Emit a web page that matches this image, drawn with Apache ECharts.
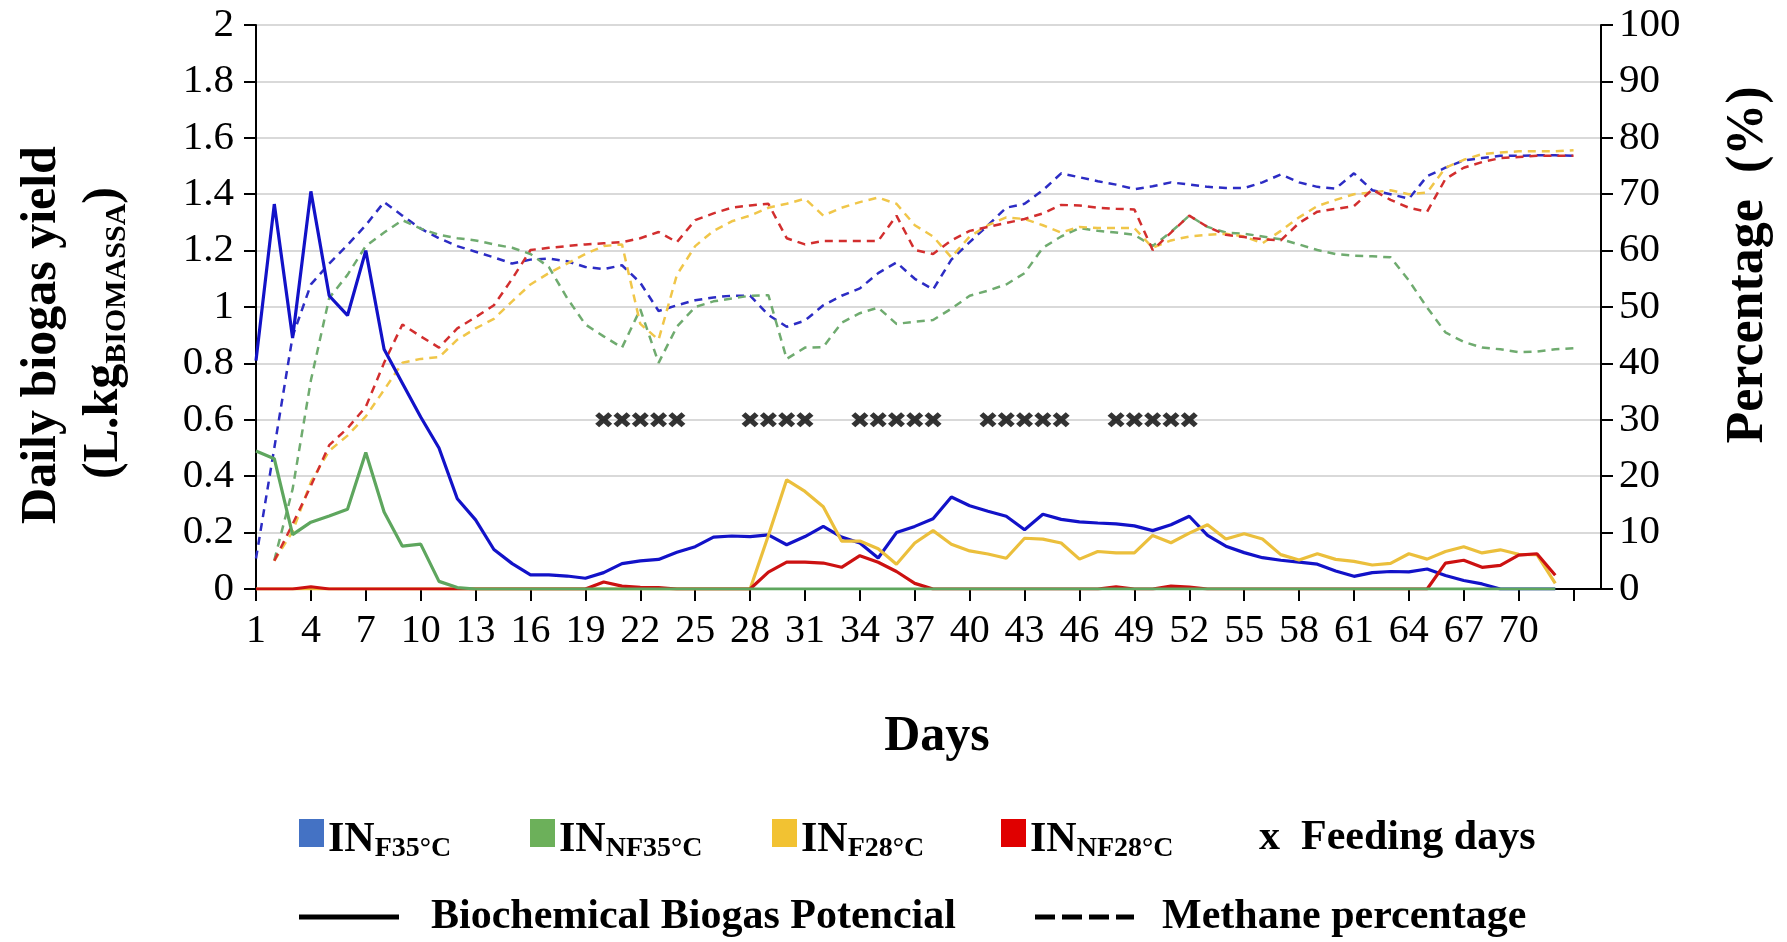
<!DOCTYPE html>
<html><head><meta charset="utf-8">
<script src="https://cdn.jsdelivr.net/npm/echarts@6/dist/echarts.min.js"></script>
<style>html,body{margin:0;padding:0;background:#fff}#c{width:1787px;height:942px}</style>
</head><body><div id="c"></div>
<script>
// ---------- DATA ----------
const days = Array.from({length: 73}, (_, i) => i + 1); // day 1 .. 73
const xTickDays = [1,4,7,10,13,16,19,22,25,28,31,34,37,40,43,46,49,52,55,58,61,64,67,70];

// Daily biogas yield (L.kg BIOMASSA), days 1..72
const bioF35 = [0.81,1.365,0.89,1.41,1.04,0.97,1.20,0.85,0.73,0.61,
  0.50,0.32,0.245,0.14,0.09,0.05,0.05,0.046,0.038,0.058,
  0.09,0.10,0.105,0.13,0.15,0.184,0.188,0.186,0.192,0.157,
  0.186,0.222,0.184,0.163,0.11,0.20,0.222,0.249,0.326,0.295,
  0.276,0.258,0.21,0.265,0.247,0.238,0.234,0.231,0.224,0.207,
  0.228,0.258,0.19,0.152,0.129,0.111,0.102,0.095,0.088,0.064,
  0.045,0.058,0.062,0.061,0.071,0.048,0.03,0.018,0,0,
  0,0];
const bioNF35 = [0.489,0.462,0.193,0.237,0.259,0.283,0.484,0.273,0.152,0.159,
  0.027,0.005,0,0,0,0,0,0,0,0,
  0,0,0,0,0,0,0,0,0,0,
  0,0,0,0,0,0,0,0,0,0,
  0,0,0,0,0,0,0,0,0,0,
  0,0,0,0,0,0,0,0,0,0,
  0,0,0,0,0,0,0,0,0,0,
  0,0];
const bioF28 = [0,0,0,0,0,0,0,0,0,0,
  0,0,0,0,0,0,0,0,0,0,
  0,0,0,0,0,0,0,0,0.19,0.387,
  0.346,0.292,0.17,0.17,0.143,0.088,0.163,0.207,0.159,0.135,
  0.124,0.109,0.18,0.177,0.163,0.106,0.133,0.128,0.128,0.19,
  0.164,0.198,0.228,0.177,0.196,0.177,0.122,0.103,0.125,0.105,
  0.098,0.085,0.091,0.125,0.106,0.133,0.15,0.128,0.139,0.123,
  0.122,0.02];
const bioNF28 = [0,0,0,0.008,0,0,0,0,0,0,
  0,0,0,0,0,0,0,0,0,0.025,
  0.01,0.006,0.005,0,0,0,0,0,0.06,0.095,
  0.095,0.092,0.077,0.118,0.095,0.062,0.02,0,0,0,
  0,0,0,0,0,0,0,0.008,0,0,
  0.01,0.007,0,0,0,0,0,0,0,0,
  0,0,0,0,0,0.092,0.102,0.077,0.084,0.12,
  0.125,0.049];

// Methane percentage (%), days 1..73 (null = no value)
const ch4F35 = [5.4,25,44.8,54,57.7,61,64.5,68.6,66.2,63.9,
  62.2,60.8,59.8,58.8,57.7,58.4,58.6,58.1,57.1,56.7,
  57.4,54.3,49.3,50.3,51.2,51.7,52,52,48.6,46.5,
  47.6,50.3,52,53.3,56,57.9,55,53.1,58.4,61.5,
  64.5,67.6,68.3,70.7,73.7,73,72.3,71.7,70.9,71.4,
  72.1,71.7,71.3,71.1,71.1,72.1,73.5,72.1,71.3,71,
  73.7,70.7,70,69.2,73.2,74.7,76,76.4,76.8,76.8,
  76.9,76.9,76.8];
const ch4NF35 = [null,5.1,17.7,37,51.6,55.7,60.8,63.2,65.4,63.9,
  62.8,62.2,61.8,61.1,60.5,59.4,57.1,51.6,46.9,44.8,
  42.8,49.6,40.1,46.5,50,51,51.5,52,52.1,40.8,
  42.8,42.9,47.2,48.9,49.9,47,47.4,47.7,49.7,52,
  52.9,54,56,60.5,62.5,64,63.5,63.2,62.8,60.8,
  63.3,66.2,64.2,63.2,63,62.5,62,61.1,60.1,59.4,
  59.1,59,58.8,54.7,49.9,45.5,43.8,42.8,42.5,42,
  42.1,42.5,42.7];
const ch4F28 = [null,5,10.2,19,24.5,27.2,30.6,35.3,40.1,40.8,
  41.1,44.2,46.2,47.9,51,54,56,57.7,59.4,60.8,
  61.1,47,44.2,55.7,60.8,63.5,65.2,66.2,67.6,68.3,
  69.2,66.2,67.6,68.6,69.4,68.3,64.5,62.5,58.8,62.5,
  64.5,65.9,65.6,64.5,63.2,64.2,64,64,64,60.5,
  61.8,62.5,62.8,63,62.5,61.3,63.5,65.9,67.9,69,
  70,70.3,70.7,70,70.3,74.7,76.1,77.1,77.4,77.6,
  77.6,77.6,77.8];
const ch4NF28 = [null,5,11.5,18.3,25.5,28.5,32.3,40.1,46.9,44.8,
  42.8,46.2,48.2,50.3,55,60.1,60.5,60.8,61.1,61.3,
  61.5,62.2,63.3,61.5,65.4,66.6,67.6,68,68.3,62.2,
  61.1,61.7,61.7,61.7,61.7,66.2,60.1,59.4,61.8,63.5,
  64.2,64.9,65.6,66.6,68.1,68,67.6,67.4,67.3,60.1,
  63.2,66.2,64.2,62.8,62.4,62,61.8,64.9,66.9,67.4,
  67.9,70.8,69,67.6,66.9,72.7,74.7,75.7,76.4,76.6,
  76.8,76.8,76.8];

const feedingDays = [20,21,22,23,24, 28,29,30,31, 34,35,36,37,38, 41,42,43,44,45, 48,49,50,51,52];
const feedingLevel = 0.6;

const leftTicks = [0,0.2,0.4,0.6,0.8,1,1.2,1.4,1.6,1.8,2];
const rightTicks = [0,10,20,30,40,50,60,70,80,90,100];

// ---------- STYLE ----------
const FONT = '"Liberation Serif","Times New Roman",serif';
const C = {
  blue: '#1212c8', blueD: '#2c2cc4',
  green: '#5ea65e', greenD: '#6fab6f',
  yellow: '#ebbf3c', yellowD: '#f0c649',
  red: '#cc1111', redD: '#d22e2e'
};
const LEG = {blue: '#4472c4', green: '#6cb05a', yellow: '#f2c232', red: '#e00000'};

// x value = day - 1 so that ticks every 3 days start at day 1
function toPairs(arr){
  return arr.map((v, i) => [days[i] - 1, v]).filter(p => p[1] !== null && p[1] !== undefined);
}
function solid(name, arr, color, z){
  return {name, type: 'line', yAxisIndex: 0, data: toPairs(arr), showSymbol: false, symbol: 'none',
    lineStyle: {color, width: 3.2}, itemStyle: {color}, z, silent: true};
}
function dashed(name, arr, color, z){
  return {name, type: 'line', yAxisIndex: 1, data: toPairs(arr), showSymbol: false, symbol: 'none',
    lineStyle: {color, width: 2.5, type: [8, 6]}, itemStyle: {color}, z, silent: true};
}

const axisLineStyle = {show: true, lineStyle: {color: '#000', width: 2}};
const tickStyle = {show: true, inside: false, length: 12, lineStyle: {color: '#000', width: 2}};

const option = {
  animation: false,
  backgroundColor: '#fff',
  grid: {left: 256, right: 186, top: 25, bottom: 353, containLabel: false, outerBoundsMode: 'none'},
  xAxis: {
    type: 'value', min: 0, max: 73.5, interval: 3,
    axisLine: Object.assign({onZero: false}, axisLineStyle),
    axisTick: tickStyle,
    splitLine: {show: false},
    axisLabel: {
      fontFamily: FONT, fontSize: 40, color: '#000', margin: 22,
      showMaxLabel: false,
      formatter: v => (Number.isInteger(v) && xTickDays.indexOf(v + 1) >= 0) ? String(v + 1) : ''
    }
  },
  yAxis: [
    {type: 'value', min: leftTicks[0], max: leftTicks[leftTicks.length - 1], interval: 0.2, position: 'left',
      axisLine: axisLineStyle, axisTick: tickStyle,
      splitLine: {show: true, lineStyle: {color: '#d9d9d9', width: 2}},
      axisLabel: {fontFamily: FONT, fontSize: 41, color: '#000', margin: 22,
        formatter: v => String(Math.round(v * 10) / 10)}},
    {type: 'value', min: rightTicks[0], max: rightTicks[rightTicks.length - 1], interval: 10, position: 'right',
      axisLine: axisLineStyle, axisTick: tickStyle, splitLine: {show: false},
      axisLabel: {fontFamily: FONT, fontSize: 41, color: '#000', margin: 18}}
  ],
  series: [
    dashed('CH4 IN F35°C', ch4F35, C.blueD, 2),
    dashed('CH4 IN NF35°C', ch4NF35, C.greenD, 2),
    dashed('CH4 IN F28°C', ch4F28, C.yellowD, 2),
    dashed('CH4 IN NF28°C', ch4NF28, C.redD, 2),
    solid('IN F35°C', bioF35, C.blue, 3),
    solid('IN F28°C', bioF28, C.yellow, 3),
    solid('IN NF28°C', bioNF28, C.red, 4),
    solid('IN NF35°C', bioNF35, C.green, 5),
    {name: 'Feeding days', type: 'scatter', yAxisIndex: 0, z: 6, silent: true,
      data: feedingDays.map(d => [d - 1, feedingLevel]),
      symbol: 'path://M0,2.3L2.3,0L5,2.7L7.7,0L10,2.3L7.3,5L10,7.7L7.7,10L5,7.3L2.3,10L0,7.7L2.7,5Z',
      symbolSize: [17, 15], itemStyle: {color: '#000'}}
  ],
  graphic: [
    // axis titles
    {type: 'text', x: 42, y: 335, rotation: Math.PI / 2, silent: true,
      style: {text: 'Daily biogas yield', font: 'bold 50px ' + FONT, fill: '#000', textAlign: 'center', textVerticalAlign: 'middle'}},
    {type: 'text', x: 104, y: 333, rotation: Math.PI / 2, silent: true,
      style: {text: '{a|(L.kg}{b|BIOMASSA}{a|)}', fill: '#000', textAlign: 'center', textVerticalAlign: 'middle',
        rich: {a: {font: 'bold 50px ' + FONT, lineHeight: 56, fill: '#000'},
               b: {font: 'bold 30px ' + FONT, lineHeight: 30, verticalAlign: 'bottom', fill: '#000'}}}},
    {type: 'text', x: 1749, y: 265, rotation: Math.PI / 2, silent: true,
      style: {text: 'Percentage  (%)', font: 'bold 52px ' + FONT, fill: '#000', textAlign: 'center', textVerticalAlign: 'middle'}},
    {type: 'text', x: 937, y: 737, silent: true,
      style: {text: 'Days', font: 'bold 50px ' + FONT, fill: '#000', textAlign: 'center', textVerticalAlign: 'middle'}},
    // legend row 1
    {type: 'rect', shape: {x: 299, y: 819, width: 25, height: 28}, style: {fill: LEG.blue}, silent: true},
    {type: 'rect', shape: {x: 530, y: 819, width: 25, height: 28}, style: {fill: LEG.green}, silent: true},
    {type: 'rect', shape: {x: 772, y: 819, width: 25, height: 28}, style: {fill: LEG.yellow}, silent: true},
    {type: 'rect', shape: {x: 1001, y: 819, width: 25, height: 28}, style: {fill: LEG.red}, silent: true},
    ...[['F35°C', 328], ['NF35°C', 559], ['F28°C', 801], ['NF28°C', 1030]].map(([sub, x]) => ({
      type: 'text', x, y: 840, silent: true,
      style: {text: '{a|IN}{b|' + sub + '}', fill: '#000', textAlign: 'left', textVerticalAlign: 'middle',
        rich: {a: {font: 'bold 42px ' + FONT, lineHeight: 46, fill: '#000'},
               b: {font: 'bold 28px ' + FONT, lineHeight: 28, verticalAlign: 'bottom', fill: '#000'}}}
    })),
    {type: 'text', x: 1259, y: 838, silent: true,
      style: {text: 'x  Feeding days', font: 'bold 42px ' + FONT, fill: '#000', textAlign: 'left', textVerticalAlign: 'middle'}},
    // legend row 2
    {type: 'line', shape: {x1: 299, y1: 917, x2: 399, y2: 917}, style: {stroke: '#000', lineWidth: 5}, silent: true},
    {type: 'text', x: 431, y: 917, silent: true,
      style: {text: 'Biochemical Biogas Potencial', font: 'bold 42px ' + FONT, fill: '#000', textAlign: 'left', textVerticalAlign: 'middle'}},
    {type: 'line', shape: {x1: 1035, y1: 917, x2: 1134, y2: 917}, style: {stroke: '#000', lineWidth: 5, lineDash: [20, 7]}, silent: true},
    {type: 'text', x: 1162, y: 917, silent: true,
      style: {text: 'Methane percentage', font: 'bold 42px ' + FONT, fill: '#000', textAlign: 'left', textVerticalAlign: 'middle'}}
  ]
};
const chart = echarts.init(document.getElementById('c'));
chart.setOption(option);
</script></body></html>
